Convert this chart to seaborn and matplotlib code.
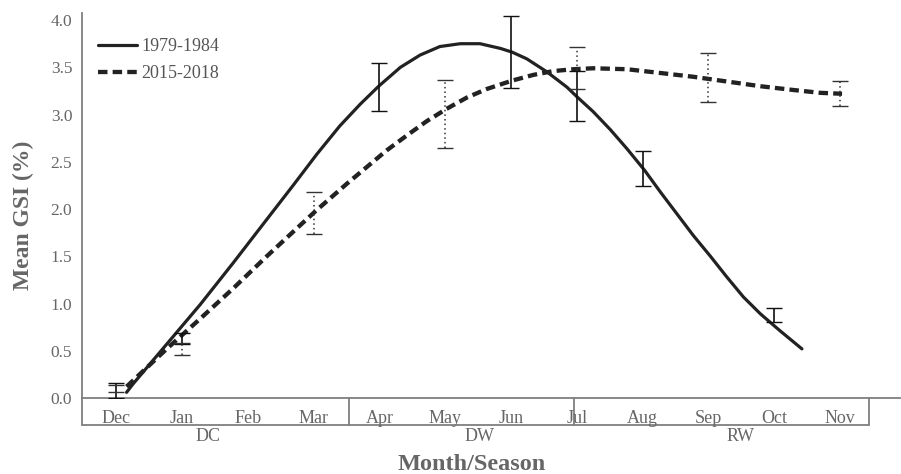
import numpy as np
import pandas as pd
import seaborn as sns
import matplotlib
matplotlib.use("Agg")
import matplotlib.pyplot as plt
from matplotlib.transforms import blended_transform_factory

# ---------------- data ----------------
months = ["Dec", "Jan", "Feb", "Mar", "Apr", "May", "Jun",
          "Jul", "Aug", "Sep", "Oct", "Nov"]
seasons = ["DC", "DW", "RW"]
series_names = ["1979-1984", "2015-2018"]

# smooth fitted curves (month position, mean GSI %)
curve_1979_x = [0.16, 0.26, 0.77, 1.28, 1.78, 2.29, 2.69, 3.05, 3.40, 3.71, 3.99,
                4.32, 4.62, 4.92, 5.23, 5.53, 5.84, 6.02, 6.24, 6.55, 6.85,
                7.00, 7.25, 7.51, 7.76, 8.03, 8.27, 8.52, 8.77, 9.03, 9.28,
                9.53, 9.79, 10.09, 10.42]
curve_1979_y = [0.06, 0.15, 0.57, 0.99, 1.43, 1.89, 2.25, 2.58, 2.88, 3.11, 3.30,
                3.50, 3.63, 3.72, 3.75, 3.75, 3.70, 3.66, 3.59, 3.45, 3.29,
                3.19, 3.03, 2.84, 2.64, 2.41, 2.18, 1.95, 1.72, 1.50, 1.28,
                1.07, 0.89, 0.71, 0.52]

curve_2015_x = [0.16, 0.77, 1.28, 1.78, 2.29, 2.80, 3.05, 3.51, 4.11, 4.42,
                4.72, 5.02, 5.33, 5.63, 6.02, 6.34, 6.64, 6.95, 7.25, 7.76,
                8.27, 8.77, 9.28, 9.79, 10.29, 10.70, 11.03]
curve_2015_y = [0.12, 0.52, 0.84, 1.16, 1.50, 1.83, 1.99, 2.27, 2.62, 2.78,
                2.93, 3.06, 3.18, 3.27, 3.36, 3.42, 3.46, 3.48, 3.49, 3.48,
                3.44, 3.40, 3.35, 3.30, 3.26, 3.23, 3.22]

# monthly means with error bars
err_1979_month = ["Dec", "Jan", "Apr", "Jun", "Jul", "Aug", "Oct"]
err_1979_mean = [0.08, 0.63, 3.295, 3.66, 3.195, 2.425, 0.875]
err_1979_sd = [0.08, 0.06, 0.255, 0.38, 0.265, 0.185, 0.075]

err_2015_month = ["Dec", "Jan", "Mar", "May", "Jul", "Sep", "Nov"]
err_2015_mean = [0.10, 0.52, 1.96, 3.01, 3.495, 3.39, 3.22]
err_2015_sd = [0.04, 0.065, 0.22, 0.36, 0.225, 0.26, 0.13]

y_ticks = [0.0, 0.5, 1.0, 1.5, 2.0, 2.5, 3.0, 3.5, 4.0]

# ---------------- style ----------------
sns.set_theme(style="white")
plt.rcParams["font.family"] = ["Liberation Serif", "DejaVu Serif"]
GRAY_TXT = "#666666"
GRAY_LINE = "#7f7f7f"
INK = "#222222"

fig = plt.figure(figsize=(9.01, 4.74), dpi=100)
ax = fig.add_axes([82 / 901, 1 - 398 / 474, (900 - 82) / 901, (398 - 13) / 474])

df1 = pd.DataFrame({"x": curve_1979_x, "y": curve_1979_y, "period": series_names[0]})
df2 = pd.DataFrame({"x": curve_2015_x, "y": curve_2015_y, "period": series_names[1]})

sns.lineplot(data=df1, x="x", y="y", ax=ax, color=INK, linewidth=2.3,
             label=series_names[0], sort=True)
sns.lineplot(data=df2, x="x", y="y", ax=ax, color=INK, linewidth=3.1,
             label=series_names[1], sort=True)
ax.lines[1].set_dashes((2.2, 1.2))
ax.lines[0].set_solid_capstyle("round")
ax.lines[0].set_solid_joinstyle("round")

pos = {m: i for i, m in enumerate(months)}

eb1 = ax.errorbar([pos[m] for m in err_1979_month], err_1979_mean, yerr=err_1979_sd,
                  fmt="none", ecolor="#111111", elinewidth=1.2, capsize=5.5,
                  capthick=1.0, zorder=3)
eb2 = ax.errorbar([pos[m] for m in err_2015_month], err_2015_mean, yerr=err_2015_sd,
                  fmt="none", ecolor="#333333", elinewidth=1.1, capsize=5.5,
                  capthick=1.0, zorder=3)
for lc in eb2[2]:
    lc.set_linestyle((0, (1, 2)))

# axes limits and ticks
ax.set_xlim(-0.517, 11.91)
ax.set_ylim(0, 4.075)
ax.set_yticks(y_ticks)
ax.set_yticklabels([f"{t:.1f}" for t in y_ticks], fontsize=12.5, color=GRAY_TXT)
ax.set_xticks([])
ax.tick_params(axis="y", length=0, pad=7)
ax.set_xlabel("")
ax.set_ylabel("Mean GSI (%)", fontsize=17, fontweight="bold", color=GRAY_TXT)
ax.yaxis.set_label_coords(-0.059, 0.475)

for s in ["top", "right"]:
    ax.spines[s].set_visible(False)
for s in ["left", "bottom"]:
    ax.spines[s].set_color(GRAY_LINE)
    ax.spines[s].set_linewidth(1.3)

# month / season table below the axis
tr = blended_transform_factory(ax.transData, ax.transAxes)
box_bottom = -0.070
box_left, box_right = -0.517, 11.44
ax.plot([box_left, box_left], [0, box_bottom], transform=tr, color=GRAY_LINE,
        lw=1.3, clip_on=False)
ax.plot([box_right, box_right], [0, box_bottom], transform=tr, color=GRAY_LINE,
        lw=1.3, clip_on=False)
ax.plot([box_left, box_right], [box_bottom, box_bottom], transform=tr,
        color=GRAY_LINE, lw=1.3, clip_on=False)
for xd in (3.54, 6.95):
    ax.plot([xd, xd], [0, box_bottom], transform=tr, color=GRAY_LINE, lw=1.3,
            clip_on=False)

for i, m in enumerate(months):
    ax.text(i, -0.053, m, transform=tr, ha="center", va="center",
            fontsize=13, color=GRAY_TXT)

for s, xs in zip(seasons, (1.40, 5.52, 9.48)):
    ax.text(xs, -0.100, s, transform=tr, ha="center", va="center",
            fontsize=13, color=GRAY_TXT)

fig.text(472 / 901, 1 - 464 / 474, "Month/Season", ha="center", va="center",
         fontsize=17.5, fontweight="bold", color=GRAY_TXT)

leg = ax.legend(loc="upper left", bbox_to_anchor=(0.004, 0.967), frameon=False,
                fontsize=13, handlelength=2.15, handletextpad=0.25,
                labelspacing=0.55, borderaxespad=0.3)
for t in leg.get_texts():
    t.set_color("#555555")

fig.savefig("out.png", dpi=100)
